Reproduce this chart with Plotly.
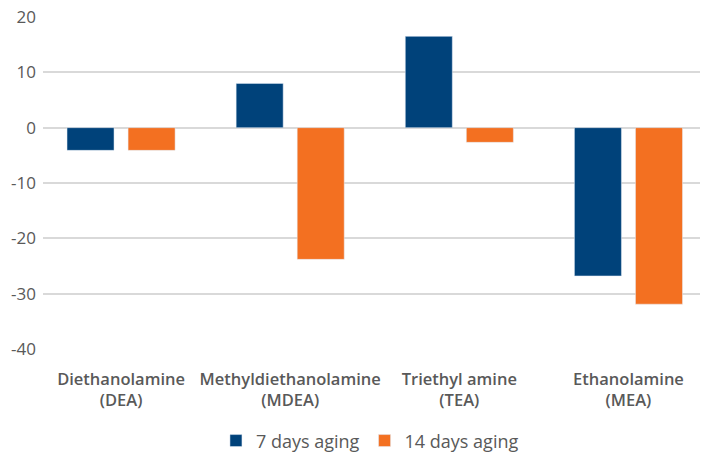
import plotly.graph_objects as go

categories = ["Diethanolamine<br>(DEA)", "Methyldiethanolamine<br>(MDEA)", "Triethyl amine<br>(TEA)", "Ethanolamine<br>(MEA)"]
seven_days = [-4.1, 8.0, 16.5, -26.8]
fourteen_days = [-4.1, -23.8, -2.65, -31.9]
y_ticks = [20, 10, 0, -10, -20, -30, -40]
y_tick_labels = ["20", "10", "0", "-10", "-20", "-30", "-40"]

fig = go.Figure()
fig.add_trace(go.Bar(x=categories, y=seven_days, name="7 days aging", marker_color="#00427A"))
fig.add_trace(go.Bar(x=categories, y=fourteen_days, name="14 days aging", marker_color="#F37021"))

fig.update_layout(
    width=702, height=452,
    margin=dict(l=43, r=2, t=17, b=103, autoexpand=False),
    plot_bgcolor="white", paper_bgcolor="white",
    barmode="group", bargap=0.278, bargroupgap=0.23,
    font=dict(family="Open Sans, sans-serif", color="#595959"),
    legend=dict(orientation="h", x=0.527, xanchor="center", xref="container",
                y=-0.221, yanchor="top", yref="paper",
                font=dict(size=18, color="#595959"), itemwidth=30, tracegroupgap=0),
    showlegend=True,
)
fig.update_xaxes(range=[-0.4615, 3.423], showgrid=False, showline=False, ticks="", automargin=False,
                 tickfont=dict(size=16.5, color="#595959", weight=600), ticklabelstandoff=18)
fig.update_yaxes(range=[-40, 20], tickvals=y_ticks, ticktext=y_tick_labels,
                 showgrid=True, gridcolor="#D9D9D9", gridwidth=1.5,
                 zeroline=True, zerolinecolor="#D9D9D9", zerolinewidth=1.5, automargin=False,
                 tickfont=dict(size=17, color="#595959"), ticklabelstandoff=6)

fig.write_html("out.html", default_width="702px", default_height="452px",
               config={"displayModeBar": False},
               post_script="document.body.style.margin='0';document.body.style.padding='0';")
